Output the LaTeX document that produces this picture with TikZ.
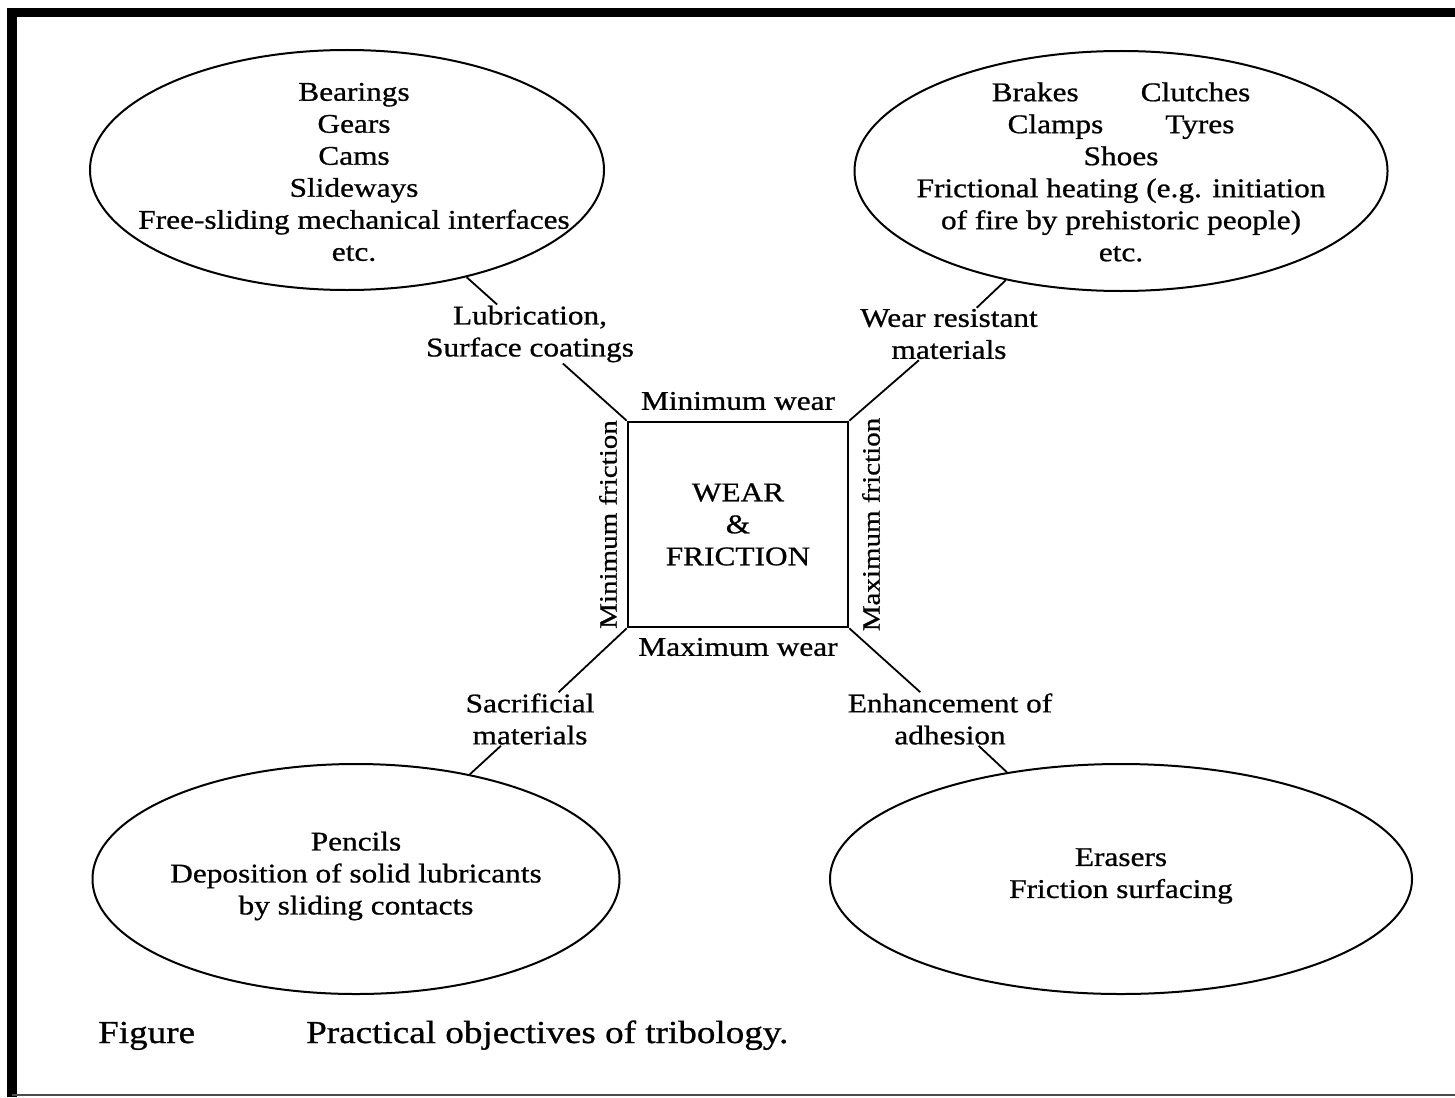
\documentclass[tikz,border=0pt]{standalone}
\usepackage{fontspec}
\setmainfont{Liberation Serif}[FakeStretch=1.16,FakeBold=0.8]
\usetikzlibrary{shapes.geometric}
\newcommand\bodyfont{\fontsize{27}{32}\selectfont}
\newcommand\sidefont{\fontsize{25}{30}\selectfont}
\newcommand\capfont{\fontsize{32}{36}\selectfont}
\tikzset{
  oval/.style={draw, ellipse, line width=2pt, inner sep=0pt},
  body/.style={align=center, font=\bodyfont, inner sep=0pt},
  lab/.style={align=center, inner sep=1pt, font=\bodyfont},
  conn/.style={line width=1.8pt},
  side/.style={font=\bodyfont, inner sep=1pt},
  vside/.style={font=\sidefont, inner sep=1pt, rotate=90},
}
\begin{document}
\begin{tikzpicture}[x=1pt,y=-1pt]
\useasboundingbox (0,0) rectangle (1455,1097);
\fill[white] (0,0) rectangle (1455,1097);
% frame
\draw[line width=9pt] (7,12.5) -- (1455,12.5);
\draw[line width=10pt] (12,8) -- (12,1097);
\draw[line width=2pt, black!70] (12,1095) -- (1455,1095);

% ellipses
\node[oval, minimum width=514pt, minimum height=240pt] (tl) at (347,170) {};
\node[body] (tlt) at (354,172) {Bearings\\Gears\\Cams\\Slideways\\Free-sliding mechanical interfaces\\etc.};

\node[oval, minimum width=533pt, minimum height=240pt] (tr) at (1121,171) {};
\node[body] (trt) at (1121,172) {Brakes\hspace{62pt}Clutches\\Clamps\hspace{62pt}Tyres\\Shoes\\Frictional heating (e.g. initiation\\of fire by prehistoric people)\\etc.};

\node[oval, minimum width=527pt, minimum height=230pt] (bl) at (356,879) {};
\node[body] (blt) at (356,876) {Pencils\\Deposition of solid lubricants\\by sliding contacts};

\node[oval, minimum width=582pt, minimum height=230pt] (br) at (1121,879) {};
\node[body] (brt) at (1121,876) {Erasers\\Friction surfacing};

% central square
\node[draw, line width=2.6pt, minimum width=220pt, minimum height=205pt, align=center, font=\bodyfont, inner sep=0pt] (sq) at (738,524.5) {WEAR\\\&\\FRICTION};
\node[side] (minw) at (738,401) {Minimum wear};
\node[side] (maxw) at (738,647) {Maximum wear};
\node[vside] (minf) at (608,524.5) {Minimum friction};
\node[vside] (maxf) at (871,524.5) {Maximum friction};

% connector labels
\node[lab] (l1) at (530,334) {Lubrication,\\Surface coatings};
\node[lab] (l2) at (949,334) {Wear resistant\\materials};
\node[lab] (l3) at (530,719) {Sacrificial\\materials};
\node[lab] (l4) at (950,719) {Enhancement of\\adhesion};

% connectors
\draw[conn] (sq.north west) -- (l1);
\draw[conn] (l1) -- (tl);
\draw[conn] (sq.north east) -- (l2);
\draw[conn] (l2) -- (tr);
\draw[conn] (sq.south west) -- (l3);
\draw[conn] (l3) -- (bl);
\draw[conn] (sq.south east) -- (l4);
\draw[conn] (l4) -- (br);

% caption
\node[anchor=base west, font=\capfont, inner sep=0pt] (fig) at (98,1043) {Figure};
\node[anchor=base west, font=\capfont, inner sep=0pt] (cap) at (306,1043) {Practical objectives of tribology.};
\end{tikzpicture}
\end{document}
